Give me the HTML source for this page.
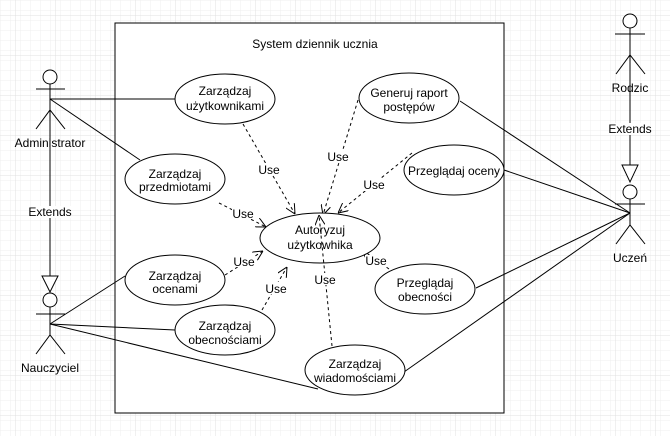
<!DOCTYPE html>
<html><head><meta charset="utf-8"><style>
html,body{margin:0;padding:0;background:#fff}
svg{display:block}
text{font-family:"Liberation Sans",sans-serif;font-size:12px;fill:#000}
</style></head><body>
<svg width="670" height="436" viewBox="0 0 670 436" xmlns="http://www.w3.org/2000/svg">
<defs>
<pattern id="g" width="10" height="10" patternUnits="userSpaceOnUse" x="5" y="5">
<path d="M10 0H0V10" fill="none" stroke="#efefef" stroke-width="1"/>
</pattern>
<pattern id="G" width="40" height="40" patternUnits="userSpaceOnUse" x="15" y="15">
<rect width="40" height="40" fill="url(#g)"/>
<path d="M40 0H0V40" fill="none" stroke="#e0e0e0" stroke-width="1"/>
</pattern>
<marker id="a" viewBox="0 0 10 10" refX="10" refY="5" markerWidth="10" markerHeight="10" orient="auto" markerUnits="userSpaceOnUse">
<path d="M0 0L10 5L0 10" fill="none" stroke="#000" stroke-width="1"/>
</marker>
</defs>
<rect width="670" height="436" fill="url(#G)"/>
<rect x="115" y="23" width="389" height="390" fill="#fff" stroke="#000"/>
<text x="315" y="48" text-anchor="middle">System dziennik ucznia</text>

<g stroke="#000" fill="none" stroke-width="1">
<line x1="50" y1="99" x2="175" y2="99"/>
<line x1="50" y1="99" x2="140" y2="160"/>
<line x1="50" y1="324" x2="125" y2="276"/>
<line x1="50" y1="324" x2="175" y2="330"/>
<line x1="50" y1="324" x2="318" y2="389"/>
<line x1="630" y1="213" x2="460" y2="101"/>
<line x1="630" y1="213" x2="504" y2="170"/>
<line x1="630" y1="213" x2="476" y2="288"/>
<line x1="630" y1="213" x2="404" y2="372"/>
<line x1="50" y1="110" x2="50" y2="276"/>
<path d="M42 276L58 276L50 292Z" fill="#fff"/>
<line x1="630" y1="40" x2="630" y2="165"/>
<path d="M622 165L638 165L630 182Z" fill="#fff"/>
<g stroke-dasharray="3,3">
<line x1="243" y1="124" x2="295" y2="214" marker-end="url(#a)"/>
<line x1="219" y1="203" x2="266" y2="227" marker-end="url(#a)"/>
<line x1="225" y1="275" x2="263" y2="251" marker-end="url(#a)"/>
<line x1="262" y1="310" x2="287" y2="267" marker-end="url(#a)"/>
<line x1="358" y1="100" x2="323" y2="215" marker-end="url(#a)"/>
<line x1="412" y1="153" x2="338" y2="213" marker-end="url(#a)"/>
<line x1="389" y1="269" x2="361" y2="249" marker-end="url(#a)"/>
</g>
<g fill="#fff">
<ellipse cx="225" cy="99" rx="50" ry="25"/>
<ellipse cx="175" cy="179" rx="50" ry="25"/>
<ellipse cx="320" cy="238" rx="60" ry="25"/>
<ellipse cx="175" cy="280" rx="50" ry="25"/>
<ellipse cx="225" cy="330" rx="50" ry="25"/>
<ellipse cx="355" cy="370" rx="50" ry="25"/>
<ellipse cx="409" cy="98" rx="50" ry="25"/>
<ellipse cx="454" cy="170" rx="50" ry="25"/>
<ellipse cx="425" cy="289" rx="50" ry="25"/>
</g>
<line x1="332" y1="346" x2="319" y2="215" stroke-dasharray="3,3" marker-end="url(#a)"/>
<g>
<circle cx="50" cy="77" r="7" fill="#fff"/>
<line x1="50" y1="84" x2="50" y2="110"/>
<line x1="36" y1="89" x2="65" y2="89"/>
<path d="M36 129L50 110L65 129"/>
<circle cx="50" cy="300" r="7" fill="#fff"/>
<line x1="50" y1="307" x2="50" y2="335"/>
<line x1="36" y1="314" x2="65" y2="314"/>
<path d="M36 354L50 335L65 354"/>
<circle cx="630" cy="21" r="7" fill="#fff"/>
<line x1="630" y1="28" x2="630" y2="55"/>
<line x1="615" y1="34" x2="645" y2="34"/>
<path d="M616 74L630 55L645 74"/>
<circle cx="630" cy="192" r="7" fill="#fff"/>
<line x1="630" y1="199" x2="630" y2="225"/>
<line x1="615" y1="204" x2="645" y2="204"/>
<path d="M616 244L630 225L645 244"/>
</g>
</g>

<g text-anchor="middle">
<text x="225" y="95">Zarządzaj</text><text x="225" y="110">użytkownikami</text>
<text x="175" y="178">Zarządzaj</text><text x="175" y="191">przedmiotami</text>
<text x="320" y="234">Autoryzuj</text><text x="320" y="249">użytkowhika</text>
<text x="175" y="280">Zarządzaj</text><text x="175" y="293">ocenami</text>
<text x="225" y="330">Zarządzaj</text><text x="225" y="344">obecnościami</text>
<text x="355" y="368">Zarządzaj</text><text x="355" y="382">wiadomościami</text>
<text x="409" y="97">Generuj raport</text><text x="409" y="111">postępów</text>
<text x="454" y="175">Przeglądaj oceny</text>
<text x="425" y="287">Przeglądaj</text><text x="425" y="301">obecności</text>
<g style="font-size:11px">
<rect x="258" y="163" width="22" height="12" fill="#fff"/><text x="269" y="174">Use</text>
<rect x="232" y="207" width="22" height="12" fill="#fff"/><text x="243" y="218">Use</text>
<rect x="233" y="255" width="22" height="12" fill="#fff"/><text x="244" y="266">Use</text>
<rect x="265" y="282" width="22" height="12" fill="#fff"/><text x="276" y="293">Use</text>
<rect x="314" y="273" width="22" height="12" fill="#fff"/><text x="325" y="284">Use</text>
<rect x="327" y="151" width="22" height="12" fill="#fff"/><text x="338" y="161">Use</text>
<rect x="363" y="179" width="22" height="12" fill="#fff"/><text x="374" y="189">Use</text>
<rect x="365" y="255" width="22" height="12" fill="#fff"/><text x="376" y="265">Use</text>
<rect x="31" y="206" width="40" height="12" fill="#fff"/><text x="50" y="216">Extends</text>
<rect x="610" y="123" width="40" height="12" fill="#fff"/><text x="630" y="133">Extends</text>
</g>
<text x="50" y="147">Administrator</text>
<text x="50" y="372">Nauczyciel</text>
<text x="630" y="92">Rodzic</text>
<text x="630" y="262">Uczeń</text>
</g>
</svg>
</body></html>
